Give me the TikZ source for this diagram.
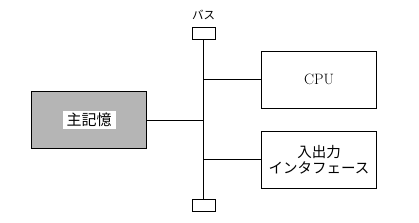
\documentclass[tikz,border=0pt]{standalone}
\usepackage{fontspec}
\newfontfamily\jpfont{Noto Sans CJK JP}
\begin{document}
\begin{tikzpicture}[x=1pt,y=-1pt,
    unit/.style={draw,line width=0.9pt,minimum width=115pt,minimum height=57pt,align=center,font=\fontsize{15}{17}\selectfont},
    busend/.style={draw,line width=0.9pt,minimum width=23pt,minimum height=11.5pt,inner sep=0pt},
    wire/.style={line width=0.9pt}]
    \useasboundingbox (0,0) rectangle (419,222);
    % Bus with its two end caps
    \node[busend] (bustop) at (203.5,33.5) {};
    \node[busend] (busbot) at (203.5,205.5) {};
    \node[font=\jpfont\fontsize{11.5}{12}\selectfont] (buslabel) at (203.5,15) {バス};
    \draw[wire] (bustop) -- (busbot);
    % Units on the bus
    \node[unit,fill=black!29] (mem) at (89,120) {};
    \node[fill=white,inner xsep=4pt,inner ysep=2pt,font=\jpfont\fontsize{15}{17}\selectfont] (memlabel) at (mem) {主記憶};
    \node[unit] (cpu) at (319,79.5) {CPU};
    \node[unit,font=\jpfont\fontsize{14.5}{16.5}\selectfont] (io) at (319,159.5) {入出力\\インタフェース};
    % Connections
    \coordinate (tapmem) at (203.5,120);
    \coordinate (tapcpu) at (203.5,79.5);
    \coordinate (tapio) at (203.5,159.5);
    \draw[wire] (mem.east) -- (tapmem);
    \draw[wire] (tapcpu) -- (cpu.west);
    \draw[wire] (tapio) -- (io.west);
\end{tikzpicture}
\end{document}
